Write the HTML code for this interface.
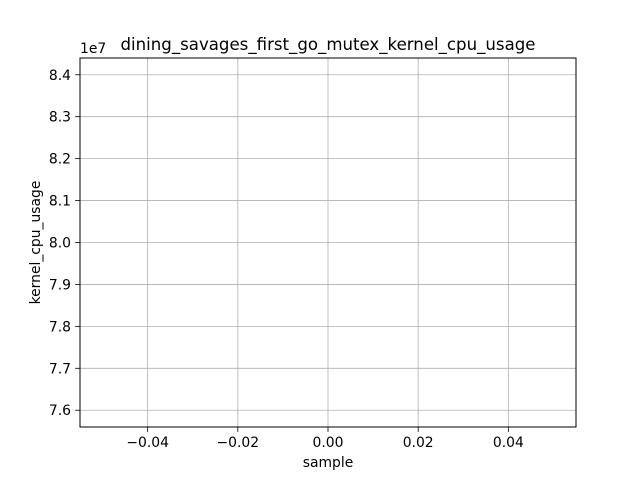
<!DOCTYPE html>
<html><head><meta charset="utf-8"><style>
body{margin:0;background:#fff;}
svg text{font-family:"DejaVu Sans","Liberation Sans",sans-serif;fill:#000;}
</style></head><body>
<svg id="chart" width="640" height="480" xmlns="http://www.w3.org/2000/svg">
<rect width="640" height="480" fill="#fff"/>
<text x="328" y="50" font-size="16.6" text-anchor="middle">dining_savages_first_go_mutex_kernel_cpu_usage</text>
<g id="grid"></g>
<g id="ticks"></g>
<g id="series"></g>
<rect x="80" y="58" width="496" height="369" fill="none" stroke="#000" stroke-width="1"/>
<text x="80" y="53" font-size="13.9">1e7</text>
<text x="328" y="467" font-size="13.9" text-anchor="middle">sample</text>
<text x="40" y="242.5" font-size="13.9" text-anchor="middle" transform="rotate(-90 40 242.5)">kernel_cpu_usage</text>
</svg>
<script>
const samples = [0];
const values = [80000000];
const xTicks = [-0.04, -0.02, 0.00, 0.02, 0.04];
const xTickLabels = ["−0.04", "−0.02", "0.00", "0.02", "0.04"];
const yTicks = [7.6, 7.7, 7.8, 7.9, 8.0, 8.1, 8.2, 8.3, 8.4];
const yTickLabels = ["7.6", "7.7", "7.8", "7.9", "8.0", "8.1", "8.2", "8.3", "8.4"];

const L=80,R=576,T=58,B=427;
const xMin=-0.055,xMax=0.055,yMin=7.56,yMax=8.44;
function xs(v){return L+(v-xMin)/(xMax-xMin)*(R-L);}
function ys(v){return B-(v-yMin)/(yMax-yMin)*(B-T);}
const NS="http://www.w3.org/2000/svg";
const grid=document.getElementById('grid'),ticks=document.getElementById('ticks'),series=document.getElementById('series');
function mk(tag,attrs,parent){const e=document.createElementNS(NS,tag);for(const k in attrs)e.setAttribute(k,attrs[k]);parent.appendChild(e);return e;}
xTicks.forEach((t,i)=>{
  const x=xs(t);
  const g=mk('line',{x1:x,x2:x,y1:T,y2:B,stroke:'#b0b0b0','stroke-width':0.8},grid);
  
  
  const tk=mk('line',{x1:x,x2:x,y1:B,y2:B+4.9,stroke:'#000','stroke-width':0.8},ticks);
  
  
  const tx=mk('text',{x:x,y:B+20,'font-size':13.9,'text-anchor':'middle'},ticks);
  tx.textContent=xTickLabels[i];
  
  
});
yTicks.forEach((t,i)=>{
  const y=ys(t);
  const g=mk('line',{x1:L,x2:R,y1:y,y2:y,stroke:'#b0b0b0','stroke-width':0.8},grid);
  
  
  const tk=mk('line',{x1:L-4.9,x2:L,y1:y,y2:y,stroke:'#000','stroke-width':0.8},ticks);
  
  
  const tx=mk('text',{x:L-9,y:y+5,'font-size':13.9,'text-anchor':'end'},ticks);
  tx.textContent=yTickLabels[i];
  
  
});
let d='';
samples.forEach((s,i)=>{d+=(i?'L':'M')+xs(s)+' '+ys(values[i]/1e7);});
const p=mk('path',{d:d,fill:'none',stroke:'#1f77b4','stroke-width':1.5},series);


</script>
</body></html>
